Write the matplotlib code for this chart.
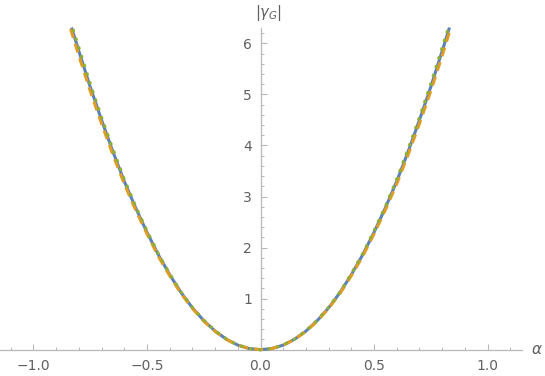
import matplotlib
matplotlib.use("Agg")
import matplotlib.pyplot as plt
from matplotlib.ticker import MultipleLocator, FixedLocator

# Data (three nearly overlapping curves)
alpha_blue = [-0.83, -0.8, -0.75, -0.7, -0.65, -0.6, -0.55, -0.5, -0.45, -0.4, -0.35, -0.3,
              -0.25, -0.2, -0.15, -0.1, -0.05, 0.0, 0.05, 0.1, 0.15, 0.2, 0.25, 0.3, 0.35,
              0.4, 0.45, 0.5, 0.55, 0.6, 0.65, 0.7, 0.75, 0.8, 0.83]
gamma_blue = [6.28, 5.85, 5.15, 4.50, 3.88, 3.30, 2.78, 2.30, 1.86, 1.47, 1.12, 0.82,
              0.57, 0.365, 0.205, 0.09, 0.023, 0.0, 0.023, 0.09, 0.205, 0.365, 0.57, 0.82,
              1.12, 1.47, 1.86, 2.30, 2.78, 3.30, 3.88, 4.50, 5.15, 5.85, 6.28]

alpha_orange = [-0.836, -0.8, -0.75, -0.7, -0.65, -0.6, -0.55, -0.5, -0.45, -0.4, -0.35, -0.3,
                -0.25, -0.2, -0.15, -0.1, -0.05, 0.0, 0.05, 0.1, 0.15, 0.2, 0.25, 0.3, 0.35,
                0.4, 0.45, 0.5, 0.55, 0.6, 0.65, 0.7, 0.75, 0.8, 0.836]
gamma_orange = [6.28, 5.76, 5.07, 4.43, 3.82, 3.25, 2.74, 2.27, 1.83, 1.45, 1.10, 0.81,
                0.56, 0.36, 0.20, 0.09, 0.023, 0.0, 0.023, 0.09, 0.20, 0.36, 0.56, 0.81,
                1.10, 1.45, 1.83, 2.27, 2.74, 3.25, 3.82, 4.43, 5.07, 5.76, 6.28]

alpha_green = [-0.826, -0.8, -0.75, -0.7, -0.65, -0.6, -0.55, -0.5, -0.45, -0.4, -0.35, -0.3,
               -0.25, -0.2, -0.15, -0.1, -0.05, 0.0, 0.05, 0.1, 0.15, 0.2, 0.25, 0.3, 0.35,
               0.4, 0.45, 0.5, 0.55, 0.6, 0.65, 0.7, 0.75, 0.8, 0.826]
gamma_green = [6.28, 5.92, 5.21, 4.55, 3.93, 3.34, 2.81, 2.33, 1.88, 1.49, 1.13, 0.83,
               0.58, 0.37, 0.21, 0.09, 0.023, 0.0, 0.023, 0.09, 0.21, 0.37, 0.58, 0.83,
               1.13, 1.49, 1.88, 2.33, 2.81, 3.34, 3.93, 4.55, 5.21, 5.92, 6.28]

x_ticks = [-1.0, -0.5, 0.0, 0.5, 1.0]
x_labels = ["\u22121.0", "\u22120.5", "0.0", "0.5", "1.0"]
y_ticks = [1, 2, 3, 4, 5, 6]
y_labels = ["1", "2", "3", "4", "5", "6"]

W, H = 545, 376
fig = plt.figure(figsize=(W / 100, H / 100), dpi=100)
x0_px, x1_px = 0.0, 521.7
ytop_px, ybot_px = 28.0, 349.7
ax = fig.add_axes([x0_px / W, (H - ybot_px) / H, (x1_px - x0_px) / W, (ybot_px - ytop_px) / H])

ax.set_xlim(-1.147, 1.150)
ax.set_ylim(0, 6.30)

axis_col = "#b8b8b8"
text_col = "#606060"

ax.plot(alpha_blue, gamma_blue, color="#5E81B5", lw=2.2, clip_on=False, zorder=3)
ax.plot(alpha_orange, gamma_orange, color="#E19C24", lw=2.2, ls=(0, (3, 2)), clip_on=False, zorder=4)
ax.plot(alpha_green, gamma_green, color="#8FB032", lw=2.2, ls=(0, (1, 2)), clip_on=False, zorder=5)

for s in ["top", "right"]:
    ax.spines[s].set_visible(False)
ax.spines["left"].set_position(("data", 0))
ax.spines["bottom"].set_position(("data", 0))
ax.spines["left"].set_color(axis_col)
ax.spines["bottom"].set_color(axis_col)
ax.spines["left"].set_linewidth(0.9)
ax.spines["bottom"].set_linewidth(0.9)

ax.xaxis.set_major_locator(FixedLocator(x_ticks))
ax.set_xticklabels(x_labels)
ax.xaxis.set_minor_locator(MultipleLocator(0.1))
ax.yaxis.set_major_locator(FixedLocator(y_ticks))
ax.set_yticklabels(y_labels)
ax.yaxis.set_minor_locator(MultipleLocator(0.2))

ax.tick_params(axis="x", which="major", direction="in", length=4.5, width=0.8,
               color=axis_col, labelcolor=text_col, labelsize=10, pad=7)
ax.tick_params(axis="x", which="minor", direction="in", length=2.5, width=0.7, color=axis_col)
ax.tick_params(axis="y", which="major", direction="in", length=4.5, width=0.8,
               color=axis_col, labelcolor=text_col, labelsize=10, pad=6)
ax.tick_params(axis="y", which="minor", direction="in", length=2.5, width=0.7, color=axis_col)

fig.text(537 / W, 1 - 349 / H, r"$\alpha$", color=text_col, fontsize=11, ha="center", va="center")
fig.text(269 / W, 1 - 13 / H, r"$|\gamma_G|$", color=text_col, fontsize=10.5, ha="center", va="center")

fig.savefig("out.png", dpi=100)
